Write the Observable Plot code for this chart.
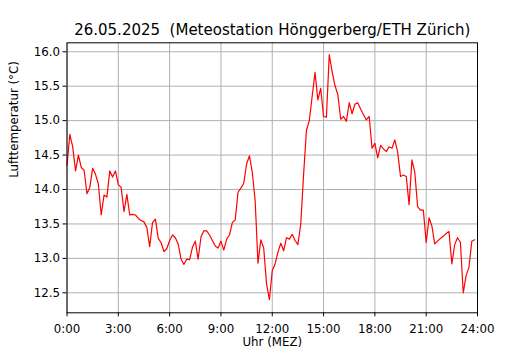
<!DOCTYPE html>
<html>
<head>
<meta charset="utf-8">
<script src="https://cdn.jsdelivr.net/npm/d3@7"></script>
<script src="https://cdn.jsdelivr.net/npm/@observablehq/plot@0.6"></script>
<style>
  html, body { margin: 0; padding: 0; background: #fff; }
  #chart { width: 530px; height: 350px; }
</style>
</head>
<body>
<div id="chart"></div>
<script>
const title = "26.05.2025  (Meteostation Hönggerberg/ETH Zürich)";
const xLabel = "Uhr (MEZ)";
const yLabel = "Lufttemperatur (°C)";
const xTicks = [0, 3, 6, 9, 12, 15, 18, 21, 24];
const xTickLabels = ["0:00", "3:00", "6:00", "9:00", "12:00", "15:00", "18:00", "21:00", "24:00"];
const yTicks = [12.5, 13.0, 13.5, 14.0, 14.5, 15.0, 15.5, 16.0];
const intervalMinutes = 10;
// temperature readings every 10 minutes, 00:00 .. 23:50
const temps = [
  14.35, 14.80, 14.62, 14.27, 14.50, 14.32, 14.28, 13.94, 14.03, 14.31, 14.22, 14.08,
  13.63, 13.92, 13.89, 14.27, 14.18, 14.27, 14.07, 14.03, 13.68, 13.93, 13.63, 13.64,
  13.63, 13.58, 13.55, 13.53, 13.45, 13.17, 13.52, 13.57, 13.29, 13.23, 13.10, 13.14,
  13.26, 13.34, 13.30, 13.21, 12.99, 12.91, 12.99, 12.98, 13.16, 13.25, 12.99, 13.31,
  13.40, 13.40, 13.34, 13.26, 13.18, 13.15, 13.25, 13.12, 13.28, 13.34, 13.52, 13.56,
  13.96, 14.02, 14.09, 14.37, 14.49, 14.25, 13.84, 12.93, 13.27, 13.15, 12.63, 12.40,
  12.82, 12.92, 13.09, 13.22, 13.11, 13.30, 13.28, 13.35, 13.26, 13.20, 13.50, 14.22,
  14.86, 15.00, 15.35, 15.70, 15.30, 15.47, 15.06, 15.05, 15.96, 15.71, 15.51, 15.38,
  15.02, 15.06, 14.99, 15.26, 15.10, 15.24, 15.26, 15.17, 15.09, 15.01, 15.06, 14.60,
  14.67, 14.46, 14.64, 14.59, 14.55, 14.62, 14.60, 14.72, 14.54, 14.19, 14.21, 14.19,
  13.78, 14.43, 14.25, 13.75, 13.70, 13.70, 13.23, 13.59, 13.47, 13.21, 13.25, 13.29,
  13.32, 13.36, 13.39, 12.92, 13.20, 13.30, 13.23, 12.50, 12.75, 12.87, 13.25, 13.27
];

const data = temps.map((t, i) => ({hour: i * intervalMinutes / 60, temp: t}));
const labelMap = new Map(xTicks.map((t, i) => [t, xTickLabels[i]]));

const chart = Plot.plot({
  width: 530,
  height: 350,
  marginLeft: 66.5,
  marginRight: 53,
  marginTop: 42.3,
  marginBottom: 37.7,
  style: {fontFamily: "DejaVu Sans", fontSize: "11.8px", color: "#000", background: "#fff"},
  x: {domain: [0, 24]},
  y: {domain: [12.21, 16.13]},
  marks: [
    Plot.gridX(xTicks, {stroke: "#b0b0b0", strokeOpacity: 1, strokeWidth: 1}),
    Plot.gridY(yTicks, {stroke: "#b0b0b0", strokeOpacity: 1, strokeWidth: 1}),
    Plot.line(data, {x: "hour", y: "temp", stroke: "#ff0000", strokeWidth: 1.2}),
    Plot.frame({stroke: "#000", strokeWidth: 1}),
    Plot.axisX(xTicks, {tickFormat: d => labelMap.get(d), tickSize: 4, tickPadding: 7.5, label: null, fontSize: 11.8}),
    Plot.axisY(yTicks, {tickFormat: d3.format(".1f"), tickSize: 4, tickPadding: 3, label: null, fontSize: 11.8}),
    Plot.text([title], {frameAnchor: "top", dy: -12.5, lineAnchor: "middle", fontSize: 15, fill: "#000"}),
    Plot.text([xLabel], {frameAnchor: "bottom", dy: 29.8, lineAnchor: "middle", fontSize: 11.8, fill: "#000"}),
    Plot.text([yLabel], {frameAnchor: "left", dx: -52.5, rotate: -90, lineAnchor: "middle", fontSize: 11.8, fill: "#000"})
  ]
});
document.getElementById("chart").appendChild(chart);
</script>
</body>
</html>
